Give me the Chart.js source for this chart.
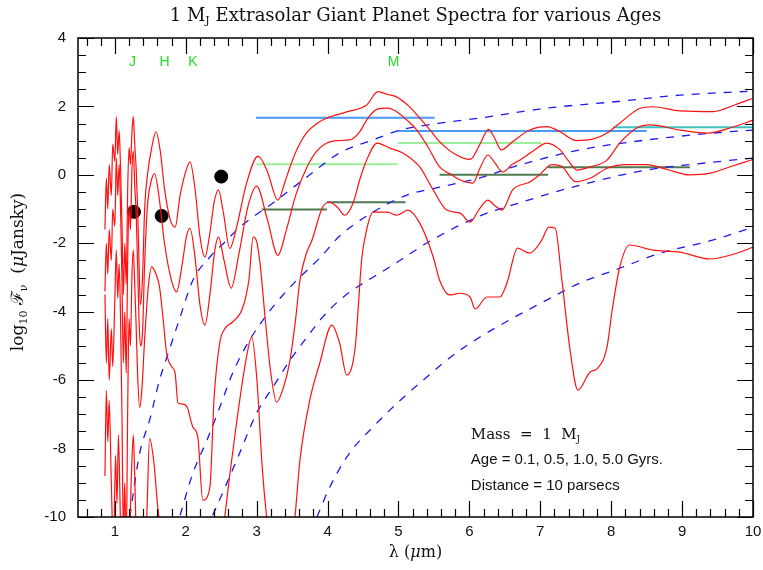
<!DOCTYPE html>
<html>
<head>
<meta charset="utf-8">
<script src="https://cdn.jsdelivr.net/npm/chart.js@4.4.0/dist/chart.umd.min.js"></script>
<style>
  html, body { margin: 0; padding: 0; background: #fff; }
</style>
</head>
<body>
<canvas id="spec" width="763" height="570"></canvas>
<script>
// ── Model spectra: [lambda (um), log10 F_nu (uJy)] ───────
const spec01 = [[0.86,-1.6],[0.88,-0.1],[0.90,-1.0],[0.92,0.3],[0.95,-0.6],[0.97,0.9],[1.00,0.4],[1.02,1.7],[1.04,0.6],[1.06,1.3],[1.08,0.2],[1.10,-1.4],[1.12,-3.5],[1.14,-2.0],[1.16,-3.2],[1.18,-0.5],[1.20,0.8],[1.22,0.3],[1.24,1.2],[1.26,1.7],[1.28,0.9],[1.30,0.2],[1.32,-0.9],[1.34,-2.5],[1.36,-3.8],[1.39,-3.0],[1.42,-1.0],[1.46,0.0],[1.52,0.8],[1.58,1.26],[1.64,0.7],[1.70,-0.4],[1.78,-1.3],[1.85,-1.53],[1.92,-0.6],[2.00,0.1],[2.06,0.38],[2.13,-0.4],[2.20,-1.8],[2.27,-2.4],[2.34,-1.7],[2.40,-0.8],[2.46,-0.44],[2.53,-1.1],[2.62,-2.15],[2.72,-1.5],[2.85,-0.3],[3.02,0.55],[3.15,0.1],[3.30,-0.74],[3.40,-0.2],[3.47,0.23],[3.58,0.8],[3.70,1.22],[3.85,1.5],[3.99,1.66],[4.27,1.84],[4.55,2.04],[4.71,2.43],[4.85,2.35],[4.97,2.28],[5.15,2.0],[5.30,1.66],[5.45,1.3],[5.58,0.97],[5.80,0.6],[6.01,0.45],[6.15,0.9],[6.27,1.33],[6.35,1.1],[6.45,0.73],[6.60,0.95],[6.85,1.31],[7.09,1.41],[7.28,1.26],[7.51,1.0],[7.75,1.05],[7.93,1.21],[8.12,1.51],[8.40,1.94],[8.59,1.99],[8.97,1.87],[9.44,1.85],[9.75,2.05],[10.0,2.24]];
const spec05 = [[0.86,-3.4],[0.88,-2.0],[0.90,-2.9],[0.92,-1.6],[0.95,-2.5],[0.97,-1.0],[1.00,-1.5],[1.02,0.5],[1.04,-0.6],[1.06,0.3],[1.08,-1.0],[1.10,-3.0],[1.12,-5.5],[1.14,-4.0],[1.16,-5.8],[1.18,-2.6],[1.20,-0.9],[1.22,-1.6],[1.24,0.1],[1.26,0.7],[1.28,-0.3],[1.30,-1.1],[1.32,-2.6],[1.34,-4.2],[1.36,-5.0],[1.39,-4.6],[1.42,-2.6],[1.46,-0.9],[1.51,-0.2],[1.56,0.04],[1.62,-0.6],[1.70,-2.0],[1.80,-3.1],[1.87,-3.42],[1.95,-2.6],[2.01,-1.8],[2.06,-1.56],[2.13,-2.4],[2.20,-3.8],[2.27,-4.39],[2.34,-3.5],[2.41,-2.2],[2.46,-1.81],[2.54,-2.5],[2.64,-3.31],[2.75,-2.3],[2.88,-0.9],[3.00,-0.33],[3.15,-1.3],[3.30,-2.35],[3.42,-1.6],[3.55,-0.6],[3.71,0.23],[3.85,0.7],[3.99,0.93],[4.15,1.0],[4.31,1.02],[4.45,1.25],[4.55,1.60],[4.70,1.92],[4.85,1.95],[4.98,1.84],[5.12,1.6],[5.26,1.31],[5.42,0.8],[5.58,0.23],[5.75,0.0],[5.87,-0.15],[6.05,-0.24],[6.15,0.2],[6.26,0.58],[6.36,0.35],[6.47,0.08],[6.60,0.3],[6.71,0.43],[6.90,0.7],[7.09,0.93],[7.28,0.73],[7.40,0.4],[7.52,0.14],[7.70,0.23],[7.94,0.43],[8.12,0.93],[8.36,1.37],[8.55,1.46],[8.97,1.31],[9.35,1.22],[9.72,1.40],[10.0,1.60]];
const spec10 = [[0.86,-3.5],[0.88,-5.5],[0.90,-4.2],[0.92,-6.0],[0.95,-4.5],[0.97,-5.6],[1.00,-3.6],[1.02,-2.2],[1.04,-3.6],[1.06,-2.6],[1.08,-4.2],[1.10,-7.0],[1.12,-10.5],[1.14,-9.0],[1.16,-11],[1.18,-7.0],[1.20,-4.2],[1.22,-5.0],[1.24,-3.0],[1.26,-2.2],[1.28,-3.2],[1.30,-4.4],[1.32,-5.8],[1.35,-6.8],[1.38,-6.3],[1.42,-4.8],[1.47,-3.3],[1.52,-2.69],[1.58,-2.9],[1.63,-3.28],[1.68,-4.2],[1.73,-5.21],[1.80,-5.6],[1.85,-5.80],[1.89,-6.67],[1.96,-6.7],[2.02,-6.79],[2.10,-7.37],[2.17,-7.67],[2.24,-9.51],[2.34,-9.13],[2.40,-6.5],[2.48,-4.9],[2.55,-4.5],[2.66,-4.30],[2.80,-3.9],[2.89,-3.08],[2.95,-1.82],[3.00,-1.95],[3.05,-2.64],[3.12,-4.2],[3.20,-5.8],[3.28,-6.64],[3.38,-6.2],[3.47,-5.42],[3.55,-4.2],[3.61,-3.08],[3.70,-2.3],[3.78,-1.91],[3.93,-0.94],[4.03,-0.80],[4.14,-0.95],[4.24,-1.18],[4.36,-0.82],[4.46,-0.1],[4.55,0.43],[4.70,0.93],[4.88,0.78],[5.06,0.64],[5.30,0.23],[5.49,-0.44],[5.68,-1.03],[5.87,-1.12],[6.01,-1.38],[6.14,-1.0],[6.26,-0.74],[6.36,-0.9],[6.46,-1.03],[6.61,-0.44],[6.85,-0.21],[6.99,0.0],[7.16,0.3],[7.30,0.25],[7.50,-0.2],[7.70,-0.1],[7.95,0.2],[8.20,0.3],[8.50,0.3],[8.80,0.15],[9.10,0.0],[9.40,0.05],[9.70,0.25],[10.0,0.45]];
const spec50 = [[0.86,-8.8],[0.88,-6.3],[0.90,-7.8],[0.92,-6.6],[0.95,-9.0],[0.98,-11],[1.01,-8.2],[1.03,-9.6],[1.05,-7.6],[1.08,-10.2],[1.10,-11],[1.20,-11],[1.23,-9.0],[1.26,-7.6],[1.28,-8.8],[1.31,-11],[1.43,-11],[1.45,-10],[1.49,-7.70],[1.55,-8.4],[1.60,-9.6],[1.63,-10.2],[1.66,-11],[2.50,-11],[2.55,-10],[2.70,-7.5],[2.85,-5.4],[2.93,-4.74],[3.00,-5.9],[3.08,-8.6],[3.14,-10],[3.20,-11],[3.48,-11],[3.54,-10],[3.61,-8.34],[3.75,-6.58],[3.89,-5.50],[4.06,-4.39],[4.17,-4.92],[4.27,-5.85],[4.39,-5.04],[4.43,-3.95],[4.48,-2.49],[4.55,-1.61],[4.64,-1.09],[4.84,-1.09],[4.98,-1.18],[5.13,-1.03],[5.30,-1.41],[5.49,-2.40],[5.58,-3.08],[5.72,-3.51],[5.87,-3.46],[6.01,-3.57],[6.08,-3.92],[6.25,-3.57],[6.43,-3.57],[6.53,-3.16],[6.68,-2.14],[6.85,-2.29],[7.02,-1.91],[7.12,-1.53],[7.21,-1.56],[7.30,-2.99],[7.42,-5.12],[7.53,-6.29],[7.70,-5.77],[7.81,-5.65],[7.94,-5.04],[8.02,-3.87],[8.12,-2.70],[8.26,-2.05],[8.59,-2.20],[8.97,-2.26],[9.39,-2.46],[9.77,-2.29],[10.0,-2.11]];

// ── Blackbody comparison curves ──────────────────────────
const bb1 = [[1.21,-10.0],[1.35,-8.13],[1.49,-7.17],[1.63,-6.0],[1.78,-5.04],[1.92,-4.16],[2.10,-3.08],[2.34,-2.40],[2.58,-1.91],[2.76,-1.53],[3.23,-0.82],[3.71,-0.06],[4.17,0.64],[4.64,1.02],[5.03,1.31],[5.58,1.51],[6.15,1.66],[7.09,1.95],[8.02,2.13],[8.97,2.33],[10.0,2.45]];
const bb2 = [[1.92,-9.95],[2.10,-8.72],[2.30,-7.75],[2.48,-6.79],[2.66,-5.80],[2.90,-4.83],[3.14,-4.10],[3.37,-3.51],[3.61,-2.99],[3.89,-2.43],[4.17,-1.79],[4.64,-1.09],[5.12,-0.59],[5.58,-0.36],[6.15,-0.09],[6.71,0.29],[7.56,0.73],[8.50,1.02],[9.43,1.22],[10.0,1.31]];
const bb3 = [[2.38,-9.95],[2.58,-9.01],[2.76,-8.13],[3.00,-6.96],[3.23,-6.20],[3.47,-5.42],[3.71,-4.74],[3.93,-4.16],[4.17,-3.66],[4.46,-3.22],[4.74,-2.87],[5.03,-2.49],[5.40,-1.99],[6.15,-1.20],[6.61,-0.88],[7.56,-0.30],[8.50,0.14],[9.43,0.37],[10.0,0.49]];
const bb4 = [[3.85,-10.0],[4.03,-9.13],[4.31,-8.13],[4.64,-7.37],[5.03,-6.58],[5.40,-5.91],[5.77,-5.27],[6.15,-4.74],[6.61,-4.19],[7.09,-3.66],[7.56,-3.16],[8.12,-2.73],[8.69,-2.29],[9.43,-1.91],[10.0,-1.53]];

// ── Instrument sensitivity levels: [from, to, level] ─────
const sensBlue  = [[2.99, 5.51, 1.67], [4.99, 8.50, 1.28]];
const sensTeal  = [[8.03, 10.0, 1.39]];
const sensLight = [[2.99, 4.99, 0.31], [4.99, 7.02, 0.93]];
const sensDark  = [[3.07, 3.99, -1.01], [3.99, 5.10, -0.80], [5.58, 7.11, 0.0], [7.11, 9.11, 0.22]];

// ── Photometry and band names ────────────────────────────
const photLam  = [1.27, 1.66, 2.50];
const photFlux = [-1.08, -1.20, -0.05];
const bandNames = ['J', 'H', 'K', 'M'];
const bandLam   = [1.25, 1.70, 2.10, 4.93];
const bandLevel = 3.3;

// ── Axis ticks ───────────────────────────────────────────
const xTickLabels = [1, 2, 3, 4, 5, 6, 7, 8, 9, 10];
const yTickLabels = [4, 2, 0, -2, -4, -6, -8, -10];

const toXY = pts => pts.map(p => ({ x: p[0], y: p[1] }));
const segXY = s => [{ x: s[0], y: s[2] }, { x: s[1], y: s[2] }];

const datasets = [];
[spec01, spec05, spec10, spec50].forEach(s => datasets.push({
  data: toXY(s), borderColor: '#ff1010', borderWidth: 1.2,
  pointRadius: 0, cubicInterpolationMode: 'monotone', fill: false,
}));
[bb1, bb2, bb3, bb4].forEach(s => datasets.push({
  data: toXY(s), borderColor: '#1a1aee', borderWidth: 1.3, borderDash: [8, 8],
  pointRadius: 0, cubicInterpolationMode: 'monotone', fill: false,
}));
const addSegs = (segs, color) => segs.forEach(s => datasets.push({
  data: segXY(s), borderColor: color, borderWidth: 2, pointRadius: 0, tension: 0, fill: false,
}));
addSegs(sensBlue, '#4a9af0');
addSegs(sensTeal, '#3cc4c4');
addSegs(sensLight, '#9bef9b');
addSegs(sensDark, '#4f7a4f');
datasets.push({
  type: 'scatter', data: photLam.map((l, i) => ({ x: l, y: photFlux[i] })),
  pointRadius: 6.5, backgroundColor: '#000', borderColor: '#000', showLine: false,
});

// draws a string made of [text, font, dy] pieces
function rich(ctx, parts, x, y, align) {
  let w = 0;
  parts.forEach(p => { ctx.font = p[1]; w += ctx.measureText(p[0]).width; });
  let cx = align === 'center' ? x - w / 2 : x;
  parts.forEach(p => {
    ctx.font = p[1];
    ctx.fillText(p[0], cx, y + (p[2] || 0));
    cx += ctx.measureText(p[0]).width;
  });
}

const framePlugin = {
  id: 'frame',
  afterDraw(chart) {
    const { ctx, chartArea: a, scales: { x, y } } = chart;
    ctx.save();
    ctx.strokeStyle = '#000';
    ctx.lineWidth = 1.2;
    ctx.beginPath();
    for (let i = Math.ceil(x.min * 5); i <= Math.floor(x.max * 5); i++) {
      const px = Math.round(x.getPixelForValue(i / 5)) + 0.5;
      const len = i % 5 === 0 ? 16 : 8;
      ctx.moveTo(px, a.bottom); ctx.lineTo(px, a.bottom - len);
      ctx.moveTo(px, a.top);    ctx.lineTo(px, a.top + len);
    }
    for (let i = Math.ceil(y.min * 2); i <= Math.floor(y.max * 2); i++) {
      const py = Math.round(y.getPixelForValue(i / 2)) + 0.5;
      const len = i % 4 === 0 ? 16 : 8;
      ctx.moveTo(a.left, py);  ctx.lineTo(a.left + len, py);
      ctx.moveTo(a.right, py); ctx.lineTo(a.right - len, py);
    }
    ctx.stroke();
    ctx.lineWidth = 1.5;
    ctx.strokeRect(a.left, a.top, a.right - a.left, a.bottom - a.top);

    // tick labels
    ctx.fillStyle = '#111';
    ctx.font = '15px "Liberation Sans", Arial, sans-serif';
    ctx.textBaseline = 'middle';
    ctx.textAlign = 'center';
    xTickLabels.forEach(v => ctx.fillText(String(v), x.getPixelForValue(v), a.bottom + 15));
    ctx.textAlign = 'right';
    yTickLabels.forEach(v => ctx.fillText(String(v), a.left - 12, y.getPixelForValue(v)));

    // title and axis titles
    ctx.textAlign = 'left';
    ctx.textBaseline = 'alphabetic';
    const serif = s => s + 'px "DejaVu Serif", "Liberation Serif", serif';
    const cx = (a.left + a.right) / 2;
    rich(ctx, [['1 M', serif(18)], ['J', serif(11), 3], [' Extrasolar Giant Planet Spectra for various Ages', serif(18)]], cx, 21, 'center');
    rich(ctx, [['\u03bb (', serif(16)], ['\u03bc', 'italic ' + serif(16)], ['m)', serif(16)]], cx, 557, 'center');

    ctx.save();
    ctx.translate(23, 272);
    ctx.rotate(-Math.PI / 2);
    rich(ctx, [['log', serif(17)], ['10', serif(11), 4], [' \u2131', serif(17)], ['\u03bd', serif(11), 4], ['  (', serif(17)], ['\u03bc', 'italic ' + serif(17)], ['Jansky)', serif(17)]], 0, 0, 'center');
    ctx.restore();

    // band names
    ctx.fillStyle = '#22dd22';
    ctx.font = '14px "Liberation Sans", Arial, sans-serif';
    ctx.textAlign = 'center';
    ctx.textBaseline = 'middle';
    bandNames.forEach((b, i) => ctx.fillText(b, x.getPixelForValue(bandLam[i]), y.getPixelForValue(bandLevel)));

    // model notes
    ctx.fillStyle = '#111';
    ctx.textAlign = 'left';
    ctx.textBaseline = 'alphabetic';
    const tx = x.getPixelForValue(6.02);
    rich(ctx, [['Mass  =  1  M', serif(15)], ['J', serif(9), 3]], tx, 439, 'left');
    ctx.font = '15px "Liberation Sans", Arial, sans-serif';
    ctx.fillText('Age = 0.1, 0.5, 1.0, 5.0 Gyrs.', tx, 464);
    ctx.fillText('Distance = 10 parsecs', tx, 490);
    ctx.restore();
  }
};

new Chart(document.getElementById('spec'), {
  type: 'line',
  data: { datasets },
  options: {
    responsive: false,
    animation: false,
    devicePixelRatio: 1,
    layout: { padding: { left: 78, right: 10, top: 38, bottom: 53 } },
    plugins: { legend: { display: false }, tooltip: { enabled: false } },
    scales: {
      x: { type: 'linear', min: 0.48, max: 10, display: false },
      y: { type: 'linear', min: -10, max: 4, display: false },
    },
  },
  plugins: [framePlugin],
});
</script>
</body>
</html>
